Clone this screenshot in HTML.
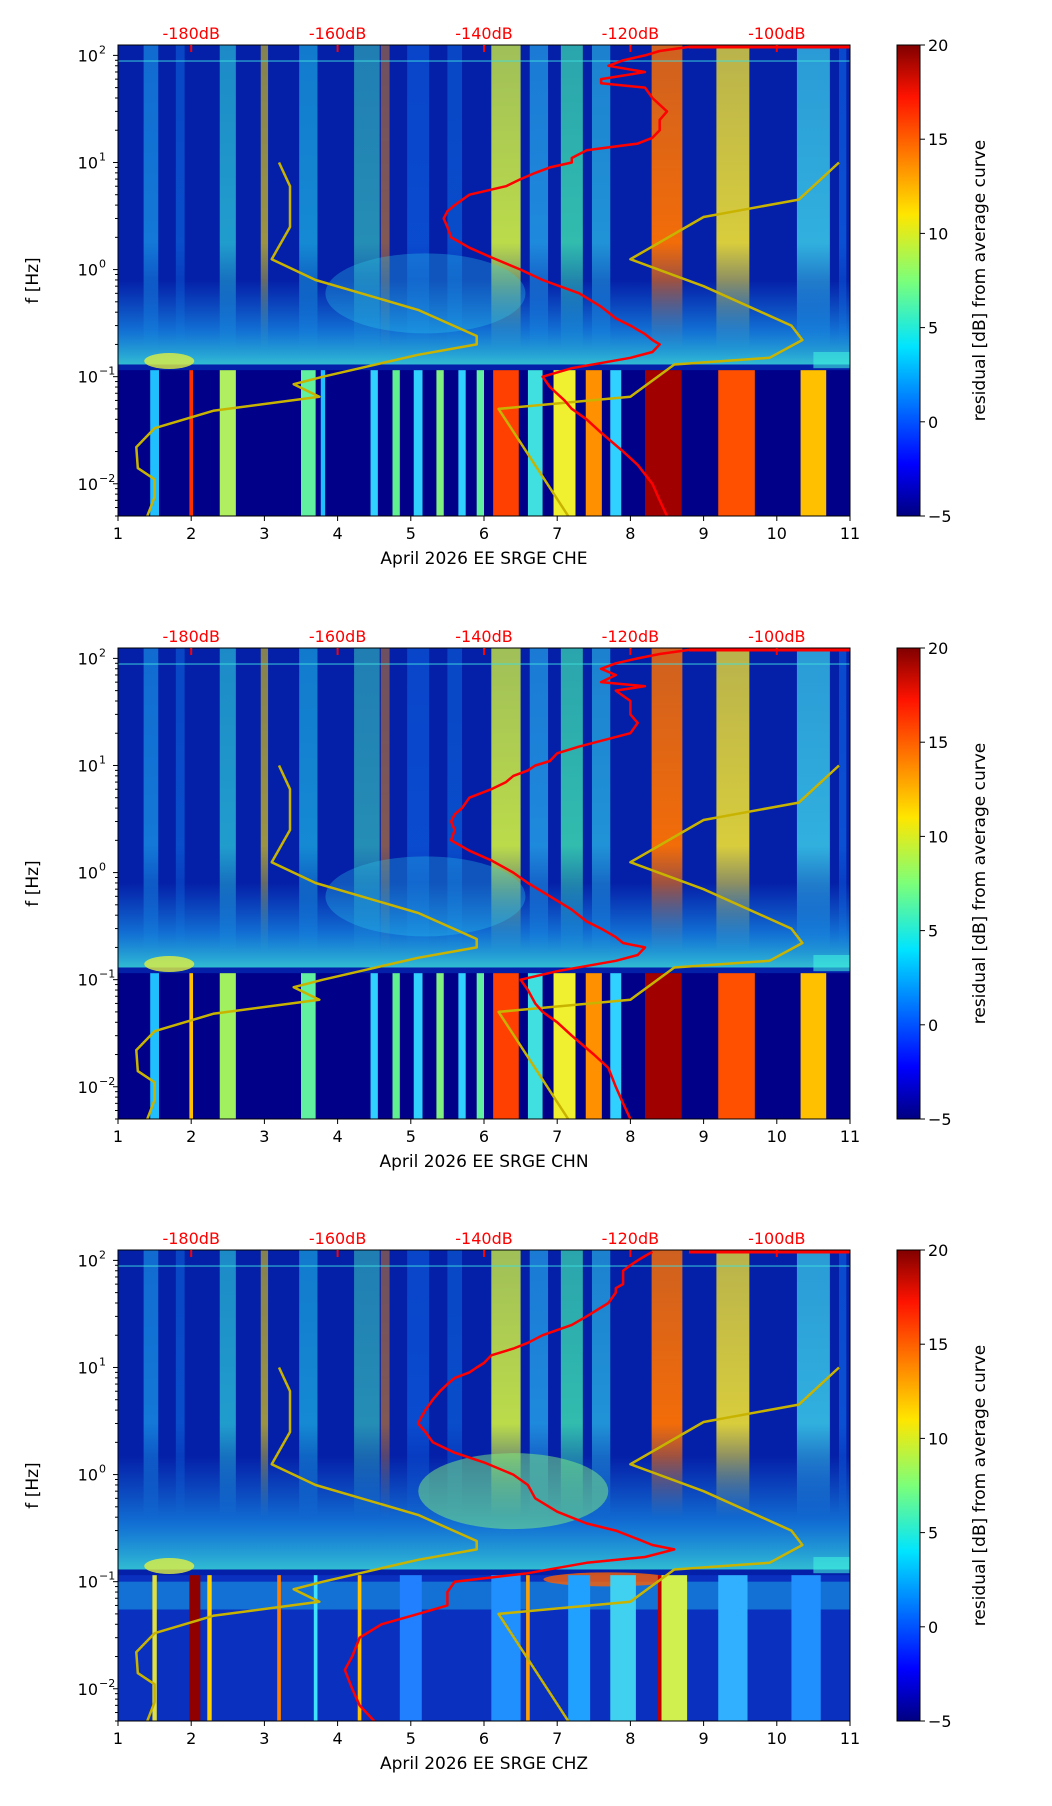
<!DOCTYPE html>
<html><head><meta charset="utf-8"><style>
html,body{margin:0;padding:0;background:#fff}
svg{display:block;font-family:"DejaVu Sans","Liberation Sans",sans-serif}
</style></head><body>
<svg id="chart" width="1052" height="1806" viewBox="0 0 1052 1806" xmlns="http://www.w3.org/2000/svg"></svg>
<script>
// ---- data ----
const panelTitles = ["April 2026 EE SRGE  CHE","April 2026 EE SRGE  CHN","April 2026 EE SRGE  CHZ"];
const xTicks = [1,2,3,4,5,6,7,8,9,10,11];
const yTickExps = [-2,-1,0,1,2];
const dbTicks = [-180,-160,-140,-120,-100];
const cbTicks = [20,15,10,5,0,-5];
// yellow reference curves (day, freq)
const yelLeftDay = [3.2,3.35,3.35,3.1,3.7,5.1,5.9,5.9,5.1,3.8,3.4,3.75,2.3,1.5,1.25,1.27,1.5,1.5,1.4];
const yelLeftFreq = [10,6,2.5,1.25,0.8,0.42,0.24,0.2,0.16,0.1,0.085,0.065,0.048,0.033,0.022,0.014,0.011,0.0075,0.005];
const yelRightDay = [10.85,10.3,9.0,8.0,9.0,10.2,10.35,9.9,8.6,8.0,6.2,7.15];
const yelRightFreq = [10,4.5,3.1,1.25,0.7,0.3,0.22,0.15,0.13,0.065,0.05,0.005];
// red average curves in dB
const redFreq = [120,110,100,90,80,70,60,55,50,40,30,25,20,17,15,13,11,10,9,8,7,6,5,4,3.5,3,2.5,2,1.6,1.3,1,0.8,0.6,0.45,0.35,0.3,0.25,0.22,0.2,0.17,0.15,0.12,0.1,0.08,0.06,0.05,0.04,0.03,0.02,0.015,0.01,0.007,0.005];
const redDb1 = [-112,-116,-118,-121,-123,-118,-124,-124,-118,-117,-115,-116,-116,-117,-119,-126,-128,-128,-131,-133,-135,-137,-142,-144,-145,-145.5,-145,-144.5,-142,-139,-135,-132,-127,-124,-122,-120,-118,-117,-116,-117,-120,-128,-132,-131,-129,-128,-126,-124,-121,-119,-117,-116,-115];
const redDb2 = [-112,-116,-119,-122,-124,-122,-124,-118,-122,-120,-120,-119,-120,-124,-127,-130,-131,-133,-134,-136,-137,-139,-142,-143,-144,-144.5,-144,-144.5,-142,-139,-136,-134,-131,-128,-126,-124,-122,-121,-118,-119,-122,-130,-135,-134,-133,-132,-130,-128,-125,-123,-122,-121,-120];
const redDb3 = [-117,-118,-119,-120,-121,-121,-121,-122,-122,-123,-126,-128,-132,-134,-136,-139,-140,-141,-142,-144,-145,-146,-147,-148,-148.5,-149,-148,-147,-144,-140,-136,-134,-133,-130,-126,-122,-119,-117,-114,-118,-126,-134,-144,-145,-145,-149,-154,-157,-158,-159,-158,-157,-155];
const redDbs = [redDb1,redDb2,redDb3];
// spectrogram upper-frequency bands: [day, width, color, opacity]
const upperBands = [
 [1.45,0.2,"#20c0ff",0.55],[1.85,0.12,"#1090ff",0.4],[2.5,0.22,"#30e0e0",0.65],[3.0,0.1,"#ffe000",0.6],
 [3.6,0.25,"#20d0f0",0.6],[4.4,0.35,"#40e8c0",0.55],[4.65,0.12,"#ff9000",0.5],[5.1,0.3,"#1080ff",0.45],
 [5.6,0.2,"#1090ff",0.4],[6.3,0.4,"#d0f040",0.9],[6.75,0.25,"#30d0ff",0.6],[7.2,0.3,"#40f0b0",0.75],
 [7.6,0.25,"#30d0f0",0.65],[8.5,0.42,"#ff7000",0.95],[9.4,0.45,"#f0e030",0.9],[10.5,0.45,"#40e0f0",0.75],[10.9,0.1,"#1080ff",0.5]
];
// lower-frequency bands per panel: [day, width, color]
const lowerBands1 = [[1.5,0.12,"#20c0ff"],[2.0,0.05,"#ff3000"],[2.5,0.22,"#b0f060"],[3.6,0.2,"#60f0a0"],[3.8,0.06,"#20c0ff"],
 [4.5,0.1,"#30d0ff"],[4.8,0.1,"#60f090"],[5.1,0.12,"#30d0ff"],[5.4,0.1,"#80f080"],[5.7,0.1,"#30d0ff"],[5.95,0.1,"#60f0a0"],
 [6.3,0.35,"#ff4000"],[6.7,0.2,"#40e0e0"],[7.1,0.3,"#f0f030"],[7.5,0.22,"#ff9000"],[7.8,0.15,"#30d0ff"],
 [8.45,0.5,"#a00000"],[9.45,0.5,"#ff5000"],[10.5,0.35,"#ffc000"]];
const lowerBands2 = [[1.5,0.12,"#20c0ff"],[2.0,0.05,"#ffc000"],[2.5,0.22,"#a0f060"],[3.6,0.2,"#60f0a0"],
 [4.5,0.1,"#30d0ff"],[4.8,0.1,"#60f090"],[5.1,0.12,"#30d0ff"],[5.4,0.1,"#80f080"],[5.7,0.1,"#30d0ff"],[5.95,0.1,"#60f0a0"],
 [6.3,0.35,"#ff4000"],[6.7,0.2,"#40e0e0"],[7.1,0.3,"#f0f030"],[7.5,0.22,"#ff9000"],[7.8,0.15,"#30d0ff"],
 [8.45,0.5,"#a00000"],[9.45,0.5,"#ff5000"],[10.5,0.35,"#ffc000"]];
const lowerBands3 = [[1.5,0.06,"#e0e040"],[2.05,0.15,"#900000"],[2.25,0.06,"#ffd000"],[3.2,0.05,"#ff8000"],[3.7,0.05,"#40e0ff"],
 [4.3,0.05,"#ffc000"],[5.0,0.3,"#2080ff"],[6.3,0.4,"#2090ff"],[6.6,0.05,"#ffa000"],[7.3,0.3,"#20a0ff"],[7.9,0.35,"#40d0f0"],
 [8.6,0.35,"#d0f050"],[8.4,0.05,"#c00000"],[9.4,0.4,"#30b0ff"],[10.4,0.4,"#2090ff"]];
const lowerBands = [lowerBands1,lowerBands2,lowerBands3];

// ---- layout ----
const NS="http://www.w3.org/2000/svg";
const svg=document.getElementById('chart');
const X0=118, X1=850, PH=471, LTOP=2.097, LBOT=-2.301;
const panelTops=[45,648,1250];
const CBX=897, CBW=23;
function xs(d){return X0+(d-1)*(X1-X0)/10;}
function ys(f,top){return top+(LTOP-Math.log10(f))*PH/(LTOP-LBOT);}
function dbToDay(db){return (db+200)/10;}
function mk(tag,attrs,parent){const e=document.createElementNS(NS,tag);for(const k in attrs)e.setAttribute(k,attrs[k]);(parent||svg).appendChild(e);return e;}
const defs=mk('defs',{});
const jet=[[0,"#000080"],[0.11,"#0000ff"],[0.36,"#00e4ff"],[0.5,"#7cff79"],[0.64,"#ffe600"],[0.89,"#ff1300"],[1,"#800000"]];
const cg=mk('linearGradient',{id:'jet',x1:0,y1:1,x2:0,y2:0},defs);
jet.forEach(s=>mk('stop',{offset:s[0],'stop-color':s[1]},cg));

panelTops.forEach((top,p)=>{
  const g=mk('g',{});
  
  
  const cp=mk('clipPath',{id:'clip'+p},defs);
  mk('rect',{x:X0,y:top,width:X1-X0,height:PH},cp);
  const plot=mk('g',{'clip-path':'url(#clip'+p+')'},g);
  
  
  // base
  mk('rect',{x:X0,y:top,width:X1-X0,height:PH,fill:'#0420a8'},plot);
  // upper bands
  upperBands.forEach((b,i)=>{
    const gid='ub'+p+'_'+i;
    const lg=mk('linearGradient',{id:gid,x1:0,y1:0,x2:0,y2:1},defs);
    mk('stop',{offset:0,'stop-color':b[2],'stop-opacity':b[3]*0.85},lg);
    mk('stop',{offset:0.65,'stop-color':b[2],'stop-opacity':b[3]},lg);
    mk('stop',{offset:1,'stop-color':b[2],'stop-opacity':0},lg);
    const yb=ys(p==2?0.4:0.18,top);
    const r=mk('rect',{x:xs(b[0]-b[1]/2),y:top,width:b[1]*(X1-X0)/10,height:yb-top,fill:'url(#'+gid+')'},plot);
    
    
  });
  // haze
  const hz='hz'+p;
  const hg=mk('linearGradient',{id:hz,x1:0,y1:0,x2:0,y2:1},defs);
  mk('stop',{offset:0,'stop-color':'#20b0ff','stop-opacity':0},hg);
  mk('stop',{offset:0.6,'stop-color':'#20c0ff','stop-opacity':0.5},hg);
  mk('stop',{offset:1,'stop-color':'#40f0e0','stop-opacity':0.75},hg);
  const hTop=ys(p==2?1.5:0.8,top), hBot=ys(0.13,top);
  mk('rect',{x:X0,y:hTop,width:X1-X0,height:hBot-hTop,fill:'url(#'+hz+')'},plot);
  if(p==2){mk('ellipse',{cx:xs(6.4),cy:ys(0.7,top),rx:95,ry:38,fill:'#80f080',opacity:0.5},plot);}
  else{mk('ellipse',{cx:xs(5.2),cy:ys(0.6,top),rx:100,ry:40,fill:'#30d0f0',opacity:0.3},plot);}
  mk('ellipse',{cx:xs(1.7),cy:ys(0.14,top),rx:25,ry:8,fill:'#e0f040',opacity:0.8},plot);
  mk('rect',{x:xs(10.5),y:ys(0.17,top),width:60,height:ys(0.12,top)-ys(0.17,top),fill:'#40f0e0',opacity:0.6},plot);
  // lower region
  const lTop=ys(0.115,top);
  mk('rect',{x:X0,y:lTop,width:X1-X0,height:top+PH-lTop,fill:p==2?'#0a30c0':'#000088'},plot);
  if(p==2){mk('rect',{x:X0,y:ys(0.1,top),width:X1-X0,height:ys(0.055,top)-ys(0.1,top),fill:'#20c0f0',opacity:0.45},plot);
    mk('ellipse',{cx:xs(7.7),cy:ys(0.105,top),rx:65,ry:7,fill:'#ff6000',opacity:0.8},plot);}
  lowerBands[p].forEach(b=>{
    const r=mk('rect',{x:xs(b[0]-b[1]/2),y:lTop,width:b[1]*(X1-X0)/10,height:top+PH-lTop,fill:b[2]},plot);
    
    
  });
  // thin horizontal lines near top
  mk('rect',{x:X0,y:ys(90,top),width:X1-X0,height:1.5,fill:'#40e0e0',opacity:0.6},plot);
  // yellow curves
  [[yelLeftDay,yelLeftFreq],[yelRightDay,yelRightFreq]].forEach((c,i)=>{
    const pts=c[0].map((d,k)=>xs(d).toFixed(1)+','+ys(c[1][k],top).toFixed(1)).join(' ');
    const l=mk('polyline',{points:pts,fill:'none',stroke:'#c8b400',"stroke-width":2.5,"stroke-linejoin":'round'},plot);
    
    
  });
  // red curve
  const rd=redDbs[p];
  const rp=redFreq.map((f,k)=>xs(dbToDay(rd[k])).toFixed(1)+','+ys(f,top).toFixed(1)).join(' ');
  const rl=mk('polyline',{points:rp,fill:'none',stroke:'#ff0000',"stroke-width":2.5,"stroke-linejoin":'round'},plot);
  
  
  mk('line',{x1:xs(dbToDay(-112)),y1:top+2,x2:X1,y2:top+2,stroke:'#ff0000','stroke-width':3},plot);
  // frame
  mk('rect',{x:X0,y:top,width:X1-X0,height:PH,fill:'none',stroke:'#000','stroke-width':1},g);
  // x ticks
  xTicks.forEach(t=>{
    mk('line',{x1:xs(t),y1:top+PH,x2:xs(t),y2:top+PH+5,stroke:'#000'},g);
    const tx=mk('text',{x:xs(t),y:top+PH+23,'font-size':16,'text-anchor':'middle'},g);tx.textContent=t;
  });
  const xl=mk('text',{x:(X0+X1)/2,y:top+PH+48,'font-size':17,'text-anchor':'middle'},g);
  xl.textContent=panelTitles[p];
  
  
  // y ticks
  yTickExps.forEach(e=>{
    const y=ys(Math.pow(10,e),top);
    mk('line',{x1:X0-5,y1:y,x2:X0,y2:y,stroke:'#000'},g);
    const tx=mk('text',{x:X0-20,y:y+6,'font-size':16,'text-anchor':'end'},g);tx.textContent='10';
    const sp=mk('text',{x:X0-19,y:y-2,'font-size':11,'text-anchor':'start'},g);sp.textContent=e<0?'\u2212'+(-e):e;
    for(let m=2;m<10;m++){const f=m*Math.pow(10,e);const yy=ys(f,top);if(yy>=top&&yy<=top+PH)mk('line',{x1:X0-3,y1:yy,x2:X0,y2:yy,stroke:'#000'},g);}
  });
  for(let m=5;m<10;m++){const yy=ys(m*0.001,top);if(yy<=top+PH+0.5)mk('line',{x1:X0-3,y1:yy,x2:X0,y2:yy,stroke:'#000'},g);}
  const yl=mk('text',{x:38,y:top+PH/2,'font-size':17,'text-anchor':'middle',transform:'rotate(-90 38 '+(top+PH/2)+')'},g);
  yl.textContent='f [Hz]';
  
  
  // dB ticks
  dbTicks.forEach(db=>{
    const x=xs(dbToDay(db));
    mk('line',{x1:x,y1:top,x2:x,y2:top+7,stroke:'#ff0000','stroke-width':2},g);
    const tx=mk('text',{x:x,y:top-6,'font-size':16,'text-anchor':'middle',fill:'#ff0000'},g);tx.textContent=db+'dB';
  });
  // colorbar
  const cb=mk('rect',{x:CBX,y:top,width:CBW,height:PH,fill:'url(#jet)',stroke:'#000','stroke-width':1},g);
  
  
  cbTicks.forEach(v=>{
    const y=top+(20-v)*PH/25;
    mk('line',{x1:CBX+CBW,y1:y,x2:CBX+CBW+5,y2:y,stroke:'#000'},g);
    const tx=mk('text',{x:CBX+CBW+8,y:y+6,'font-size':16},g);tx.textContent=v<0?'\u2212'+(-v):v;
  });
  const cl=mk('text',{x:985,y:top+PH/2,'font-size':17,'text-anchor':'middle',transform:'rotate(-90 985 '+(top+PH/2)+')'},g);
  cl.textContent='residual [dB] from average curve';
  
  
});
</script>
</body></html>
